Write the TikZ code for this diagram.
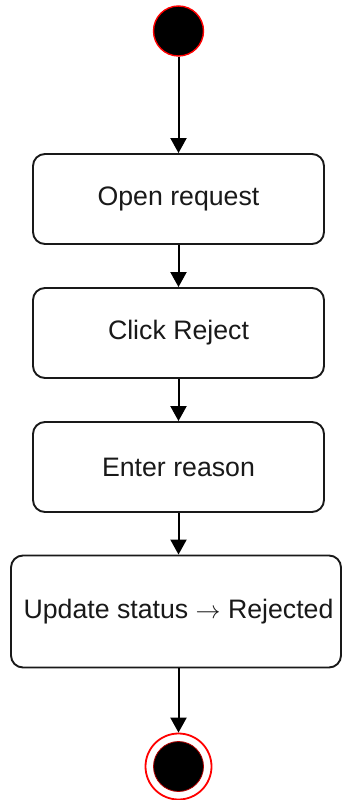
\documentclass[tikz,border=0pt]{standalone}
\usepackage{fontspec}
\setmainfont{Liberation Sans}
\usetikzlibrary{arrows.meta}
\begin{document}
\begin{tikzpicture}[x=1pt,y=-1pt,
  actbox/.style={draw=black!90, line width=1.9pt, rounded corners=12pt, fill=white,
    minimum height=90pt, inner sep=0pt, text=black!90,
    font=\fontsize{26.7}{30}\selectfont},
  flow/.style={draw=black, line width=2pt, -{Triangle[width=16pt,length=15pt]}},
  startdot/.style={circle, fill=black, draw=red, line width=1.4pt, minimum size=50pt, inner sep=0pt},
  endring/.style={circle, draw=red, fill=white, line width=1.8pt, minimum size=66pt, inner sep=0pt},
  enddot/.style={circle, fill=black, draw=red!70!black, line width=0.8pt, minimum size=50pt, inner sep=0pt}]
\useasboundingbox (0,0) rectangle (342,800);
\node[startdot] (s) at (178.5,31) {};
\node[actbox, minimum width=291pt] (b1) at (178.5,199) {Open request};
\node[actbox, minimum width=291pt] (b2) at (178.5,333) {Click Reject};
\node[actbox, minimum width=291pt] (b3) at (178.5,467) {Enter reason};
\node[actbox, minimum width=330pt, minimum height=112pt] (b4) at (176,611.5) {\hspace*{5pt}Update status $\rightarrow$ Rejected};
\node[endring] (e) at (178.5,766.5) {};
\node[enddot] (ed) at (e.center) {};
\draw[flow] (s) -- (b1);
\draw[flow] (b1) -- (b2);
\draw[flow] (b2) -- (b3);
\draw[flow] (b3.south) -- (b3.south |- b4.north);
\draw[flow] (b3.south |- b4.south) -- (e);
\end{tikzpicture}
\end{document}
